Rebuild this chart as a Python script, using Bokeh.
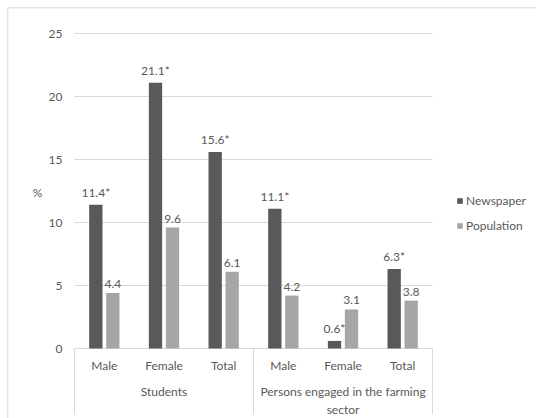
from bokeh.plotting import figure
from bokeh.models import Range1d, Legend, LegendItem, ColumnDataSource
from bokeh.core.properties import value
from bokeh.embed import file_html
from bokeh.resources import INLINE

# ---- data ----
groups = ["Students", "Persons engaged in the farming\nsector"]
group_sizes = [3, 3]
subcats = ["Male", "Female", "Total", "Male", "Female", "Total"]
newspaper = [11.4, 21.1, 15.6, 11.1, 0.6, 6.3]
newspaper_sig = [True, True, True, True, True, True]
population = [4.4, 9.6, 6.1, 4.2, 3.1, 3.8]
y_ticks = [0, 5, 10, 15, 20, 25]
series_names = ["Newspaper", "Population"]

# ---- styles ----
FONT = "Lato"
TXT = "#595959"
GRID = "#d9d9d9"
C_NEWS = "#595959"
C_POP = "#a6a6a6"

W, H = 536, 418
PX_X = 59.67          # px per category
PX_Y = 12.6           # px per %
LEFT_PX, ZERO_PX = 74, 348

n = len(subcats)
x_start = -LEFT_PX / PX_X
x_end = (W - LEFT_PX) / PX_X
y_start = -(H - ZERO_PX) / PX_Y
y_end = ZERO_PX / PX_Y

p = figure(width=W, height=H, output_backend="svg", toolbar_location=None,
           x_range=Range1d(x_start, x_end), y_range=Range1d(y_start, y_end),
           x_axis_location=None, y_axis_location=None, min_border=0)
p.outline_line_color = None
p.grid.visible = False
p.background_fill_color = "white"
p.border_fill_color = "white"

# outer chart border (left and top)
bx = (7.3 - LEFT_PX) / PX_X
by = (ZERO_PX - 7.3) / PX_Y
p.segment(x0=[bx, bx], y0=[y_start, by], x1=[bx, x_end], y1=[by, by],
          line_color=GRID, line_width=1)

# gridlines
p.segment(x0=[0] * len(y_ticks), x1=[n] * len(y_ticks), y0=y_ticks, y1=y_ticks,
          line_color=GRID, line_width=1)

# tick labels
p.text(x=[0] * len(y_ticks), y=y_ticks, text=[str(t) for t in y_ticks],
       x_offset=-12, text_align="right", text_baseline="middle",
       text_font=value(FONT), text_font_size="12px", text_color=TXT)

# "%" axis title
p.text(x=[(37 - LEFT_PX) / PX_X], y=[(ZERO_PX - 192) / PX_Y], text=["%"],
       text_align="center", text_baseline="middle",
       text_font=value(FONT), text_font_size="12px", text_color=TXT)

# bars
bw = 13.3 / PX_X
off = 8.5 / PX_X
xc = [i + 0.5 for i in range(n)]
src = ColumnDataSource(dict(
    xn=[x - off for x in xc], xp=[x + off for x in xc],
    news=newspaper, pop=population,
    news_lab=[f"{v}*" if s else f"{v}" for v, s in zip(newspaper, newspaper_sig)],
    pop_lab=[f"{v}" for v in population],
))
r_news = p.vbar(x="xn", top="news", width=bw, source=src, fill_color=C_NEWS, line_color=None)
r_pop = p.vbar(x="xp", top="pop", width=bw, source=src, fill_color=C_POP, line_color=None)

# value labels
p.text(x="xn", y="news", text="news_lab", source=src, y_offset=-5,
       text_align="center", text_baseline="bottom",
       text_font=value(FONT), text_font_size="12px", text_color=TXT)
p.text(x="xp", y="pop", text="pop_lab", source=src, y_offset=-5,
       text_align="center", text_baseline="bottom",
       text_font=value(FONT), text_font_size="12px", text_color=TXT)

# category axis box
bounds = [0]
for g in group_sizes:
    bounds.append(bounds[-1] + g)
sep_bottom = (ZERO_PX - 414) / PX_Y
p.segment(x0=bounds, x1=bounds, y0=[0] * len(bounds), y1=[sep_bottom] * len(bounds),
          line_color=GRID, line_width=1)

p.text(x=xc, y=[0] * n, text=subcats, y_offset=17,
       text_align="center", text_baseline="middle",
       text_font=value(FONT), text_font_size="12px", text_color=TXT)

gx = [(bounds[i] + bounds[i + 1]) / 2 for i in range(len(groups))]
p.text(x=gx, y=[0] * len(groups), text=groups, y_offset=35,
       text_align="center", text_baseline="top", text_line_height=1.2,
       text_font=value(FONT), text_font_size="12px", text_color=TXT)

# legend
legend = Legend(items=[LegendItem(label=series_names[0], renderers=[r_news]),
                       LegendItem(label=series_names[1], renderers=[r_pop])],
                location=(456, 183), orientation="vertical",
                padding=0, margin=0, spacing=5, glyph_width=7, glyph_height=7,
                label_standoff=3, label_height=20,
                label_text_font=FONT, label_text_font_size="12px",
                label_text_color=TXT, border_line_color=None,
                background_fill_alpha=0)
p.add_layout(legend)

open("out.html", "w").write(file_html(p, INLINE))
